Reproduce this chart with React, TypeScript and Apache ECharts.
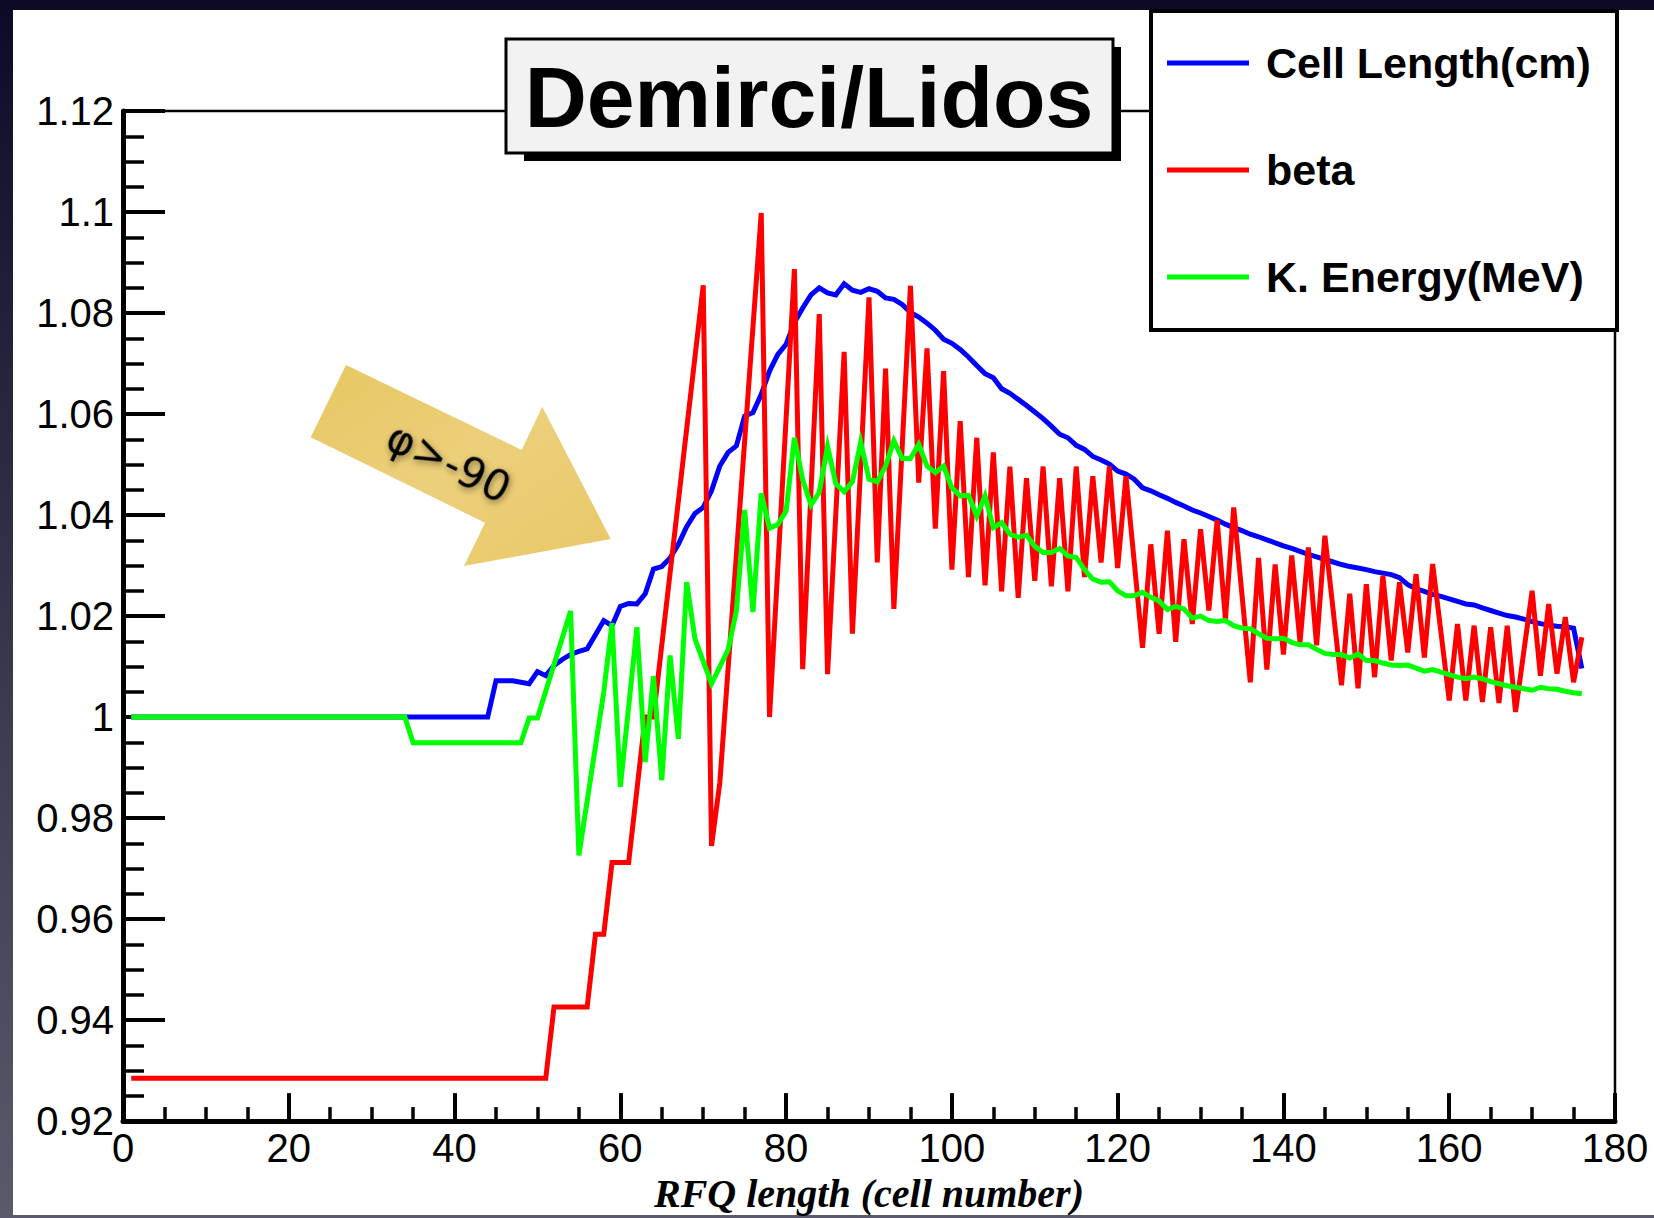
import React, { useEffect, useRef } from "react";
import * as echarts from "echarts";

// ---------- data (cell number, value) ----------
const seriesNames = ["Cell Length(cm)", "beta", "K. Energy(MeV)"];
const seriesColors = ["#0000ff", "#ff0000", "#00ff00"];

const cellLength: [number, number][] = [
  [1, 1.0], [44, 1.0], [45, 1.0072], [47, 1.0072], [49, 1.0066], [50, 1.009], [51, 1.0082],
  [52, 1.0102], [53, 1.0114], [54, 1.0124], [55, 1.013], [56, 1.0135], [57, 1.0163], [58, 1.0191],
  [59, 1.0181], [60, 1.0219], [61, 1.0225], [62, 1.0224], [63, 1.0244], [64, 1.0293], [65, 1.0298],
  [66, 1.0315], [67, 1.0342], [68, 1.0377], [69, 1.0403], [70, 1.0415], [71, 1.0448], [72, 1.0497],
  [73, 1.0524], [74, 1.0537], [75, 1.0596], [76, 1.0603], [77, 1.0639], [78, 1.0685], [79, 1.0718],
  [80, 1.0738], [81, 1.0781], [82, 1.081], [83, 1.0836], [84, 1.085], [85, 1.084], [86, 1.0836],
  [87, 1.0858], [88, 1.0845], [89, 1.0841], [90, 1.0848], [91, 1.0843], [92, 1.083], [93, 1.0827],
  [94, 1.0817], [95, 1.0801], [96, 1.0792], [97, 1.078], [98, 1.0766], [99, 1.0748], [100, 1.074],
  [101, 1.0728], [102, 1.0713], [103, 1.0696], [104, 1.068], [105, 1.0672], [106, 1.065], [107, 1.0641],
  [108, 1.0629], [109, 1.0617], [110, 1.0604], [111, 1.0591], [112, 1.0576], [113, 1.056], [114, 1.0553],
  [115, 1.0538], [116, 1.053], [117, 1.0516], [118, 1.0509], [119, 1.0501], [120, 1.0487], [121, 1.0481],
  [122, 1.0471], [123, 1.0454], [124, 1.0448], [125, 1.044], [126, 1.0433], [127, 1.0425], [128, 1.0418],
  [129, 1.041], [130, 1.0404], [131, 1.0397], [132, 1.039], [133, 1.0382], [134, 1.0375], [135, 1.0369],
  [136, 1.0362], [137, 1.0357], [138, 1.0351], [139, 1.0345], [140, 1.0339], [141, 1.0334], [142, 1.0328],
  [143, 1.0322], [144, 1.0317], [145, 1.0312], [146, 1.0307], [147, 1.0302], [148, 1.0298], [149, 1.0295],
  [150, 1.0292], [151, 1.0288], [152, 1.0285], [153, 1.0282], [154, 1.0276], [155, 1.0262], [156, 1.0254],
  [157, 1.0249], [158, 1.0243], [159, 1.0239], [160, 1.0234], [161, 1.0229], [162, 1.0224], [163, 1.0222],
  [164, 1.0216], [165, 1.0211], [166, 1.0206], [167, 1.0201], [168, 1.0198], [169, 1.0194], [170, 1.0189],
  [171, 1.0185], [172, 1.0182], [173, 1.018], [174, 1.0179], [175, 1.0176], [176, 1.0096],
];

const beta: [number, number][] = [
  [1, 0.9285], [51, 0.9285], [52, 0.9426], [56, 0.9426], [57, 0.957], [58, 0.957], [59, 0.9712],
  [61, 0.9712], [63, 1.0], [64, 1.0], [70, 1.0855], [71, 0.9745], [72, 0.987], [77, 1.0998], [78, 1.0],
  [81, 1.0887], [82, 1.0095], [84, 1.0798], [85, 1.0085], [87, 1.0723], [88, 1.0165], [90, 1.0831],
  [91, 1.0306], [92, 1.069], [93, 1.0214], [95, 1.0854], [96, 1.0464], [97, 1.073], [98, 1.0373],
  [99, 1.0685], [100, 1.0292], [101, 1.0586], [102, 1.0277], [103, 1.0553], [104, 1.0261], [105, 1.0524],
  [106, 1.0249], [107, 1.0496], [108, 1.0236], [109, 1.0473], [110, 1.027], [111, 1.0496], [112, 1.0259],
  [113, 1.0473], [114, 1.0249], [115, 1.0496], [116, 1.0277], [117, 1.0477], [118, 1.0306], [119, 1.0496],
  [120, 1.0295], [121, 1.0477], [123, 1.0137], [124, 1.0342], [125, 1.0165], [126, 1.0369], [127, 1.0149],
  [128, 1.0352], [129, 1.0184], [130, 1.0372], [131, 1.0211], [132, 1.039], [133, 1.0194], [134, 1.0415],
  [136, 1.0069], [137, 1.0315], [138, 1.0094], [139, 1.0302], [140, 1.0124], [141, 1.032], [142, 1.0148],
  [143, 1.0336], [144, 1.0142], [145, 1.0359], [147, 1.0063], [148, 1.0244], [149, 1.0057], [150, 1.0263],
  [151, 1.0079], [152, 1.028], [153, 1.0112], [154, 1.0267], [155, 1.0128], [156, 1.0283], [157, 1.0118],
  [158, 1.0303], [160, 1.0033], [161, 1.0184], [162, 1.0033], [163, 1.0181], [164, 1.003], [165, 1.0178],
  [166, 1.0028], [167, 1.0181], [168, 1.001], [170, 1.025], [171, 1.0082], [172, 1.0224], [173, 1.0086],
  [174, 1.0198], [175, 1.0069], [176, 1.0158],
];

const kineticEnergy: [number, number][] = [
  [1, 1.0], [34, 1.0], [35, 0.9949], [48, 0.9949], [49, 0.9998], [50, 0.9998], [54, 1.021], [55, 0.9726],
  [58, 1.005], [59, 1.0186], [60, 0.9862], [62, 1.0178], [63, 0.9911], [64, 1.0081], [65, 0.9875],
  [66, 1.0122], [67, 0.9957], [68, 1.0267], [69, 1.0155], [71, 1.0066], [73, 1.0133], [74, 1.021],
  [75, 1.041], [76, 1.0208], [77, 1.0443], [78, 1.0374], [79, 1.0381], [80, 1.0408], [81, 1.0553],
  [82, 1.047], [83, 1.042], [84, 1.0445], [85, 1.0536], [86, 1.0462], [87, 1.0446], [88, 1.0466],
  [89, 1.0544], [90, 1.0471], [91, 1.0466], [92, 1.0497], [93, 1.0547], [94, 1.0512], [95, 1.0512],
  [96, 1.054], [97, 1.0497], [98, 1.0484], [99, 1.0497], [100, 1.0454], [101, 1.0438], [102, 1.0439],
  [103, 1.0398], [104, 1.0438], [105, 1.0375], [106, 1.0385], [107, 1.0362], [108, 1.0356], [109, 1.036],
  [110, 1.0338], [111, 1.0326], [112, 1.0326], [113, 1.0334], [114, 1.0319], [115, 1.0316], [116, 1.0292],
  [117, 1.0273], [118, 1.0267], [119, 1.0268], [120, 1.025], [121, 1.024], [122, 1.024], [123, 1.0247],
  [124, 1.0237], [125, 1.023], [126, 1.0213], [127, 1.0219], [128, 1.0214], [129, 1.0196], [130, 1.02],
  [131, 1.0191], [132, 1.0189], [133, 1.0191], [134, 1.0181], [135, 1.0176], [136, 1.0175], [137, 1.0165],
  [138, 1.0156], [139, 1.0155], [140, 1.0156], [141, 1.0148], [142, 1.0143], [143, 1.0143], [144, 1.0134],
  [145, 1.0126], [146, 1.0124], [147, 1.0124], [148, 1.0117], [149, 1.0125], [150, 1.0112], [151, 1.0112],
  [152, 1.0107], [153, 1.0103], [154, 1.0102], [155, 1.0103], [156, 1.0097], [157, 1.0091], [158, 1.0094],
  [159, 1.0089], [160, 1.0084], [161, 1.0079], [162, 1.0076], [163, 1.0079], [164, 1.0076], [165, 1.007],
  [166, 1.0066], [167, 1.0062], [168, 1.0059], [169, 1.0056], [170, 1.0053], [171, 1.0059], [172, 1.0056],
  [173, 1.0055], [174, 1.0051], [175, 1.0048], [176, 1.0046],
];

const xRange = { min: 0, max: 180, step: 20 };
const yRange = { min: 0.92, max: 1.12, step: 0.02 };
const chartTitle = "Demirci/Lidos";
const xAxisTitle = "RFQ length (cell number)";
const arrowLabel = "φ>-90";

export default function App() {
  const ref = useRef<HTMLDivElement>(null);

  useEffect(() => {
    if (!ref.current) return;
    const chart = echarts.init(ref.current, null, { renderer: "svg" });
    const black = "#000";
    const option: any = {
      animation: false,
      backgroundColor: "transparent",
      title: {
        text: chartTitle,
        left: 809,
        top: 97,
        textAlign: "center",
        textVerticalAlign: "middle",
        padding: 0,
        z: 60,
        textStyle: { fontSize: 86, fontWeight: "bold", fontFamily: "Liberation Sans", color: black },
      },
      legend: {
        orient: "vertical",
        left: 1167,
        top: 38,
        padding: 0,
        itemWidth: 82,
        itemHeight: 5,
        itemGap: 57,
        icon: "rect",
        z: 60,
        textStyle: {
          fontSize: 43,
          fontWeight: "bold",
          fontFamily: "Liberation Sans",
          color: black,
          lineHeight: 50,
          padding: [0, 0, 0, 12],
        },
        data: seriesNames,
      },
      grid: {
        left: 123,
        right: 39,
        top: 111,
        bottom: 82,
        show: true,
        borderColor: black,
        borderWidth: 2.5,
        backgroundColor: "transparent",
      },
      xAxis: {
        type: "value",
        min: xRange.min,
        max: xRange.max,
        interval: xRange.step,
        axisLine: { show: true, onZero: false, lineStyle: { color: black, width: 5 } },
        axisTick: { show: true, inside: true, length: 28, lineStyle: { color: black, width: 4 } },
        minorTick: { show: true, splitNumber: 4, length: 14, lineStyle: { color: black, width: 3.5 } },
        splitLine: { show: false },
        axisLabel: { color: black, fontSize: 40, fontFamily: "Liberation Sans", margin: 7 },
        name: xAxisTitle,
        nameLocation: "middle",
        nameGap: 37,
        nameTextStyle: {
          fontFamily: "Liberation Serif",
          fontStyle: "italic",
          fontWeight: "bold",
          fontSize: 40,
          color: black,
        },
      },
      yAxis: {
        type: "value",
        min: yRange.min,
        max: yRange.max,
        interval: yRange.step,
        axisLine: { show: true, onZero: false, lineStyle: { color: black, width: 5 } },
        axisTick: { show: true, inside: true, length: 42, lineStyle: { color: black, width: 4 } },
        minorTick: { show: true, splitNumber: 4, length: 21, lineStyle: { color: black, width: 3.5 } },
        splitLine: { show: false },
        axisLabel: {
          color: black,
          fontSize: 40,
          fontFamily: "Liberation Sans",
          margin: 9,
          formatter: (v: number) => String(Number(v.toFixed(3))),
        },
      },
      series: [cellLength, beta, kineticEnergy].map((d, i) => ({
        name: seriesNames[i],
        type: "line",
        data: d,
        showSymbol: false,
        symbol: "none",
        z: 3 + i,
        color: seriesColors[i],
        lineStyle: { color: seriesColors[i], width: 5, join: "miter", miterLimit: 6 },
      })),
      graphic: [
        {
          type: "polygon",
          z: 5,
          shape: {
            points: [
              [346, 365], [521.7, 450], [542.3, 406.7], [610.7, 539], [464, 566], [485, 522.7], [310.7, 437.3],
            ],
          },
          style: {
            fill: new echarts.graphic.LinearGradient(0, 0, 1, 1, [
              { offset: 0, color: "#e8c662" },
              { offset: 0.5, color: "#eccf7a" },
              { offset: 1, color: "#e9c868" },
            ]),
          },
        },
        {
          type: "text",
          z: 6,
          x: 449,
          y: 462,
          rotation: -0.45,
          style: {
            text: arrowLabel,
            fontSize: 42,
            fontFamily: "DejaVu Sans",
            fill: black,
            align: "center",
            verticalAlign: "middle",
            textShadowColor: "rgba(0,0,0,0.45)",
            textShadowBlur: 6,
            textShadowOffsetX: 2,
            textShadowOffsetY: 2,
          },
        },
        {
          type: "rect",
          z: 50,
          shape: { x: 524, y: 47, width: 597, height: 114 },
          style: { fill: black },
        },
        {
          type: "rect",
          z: 51,
          shape: { x: 506, y: 39, width: 607, height: 114 },
          style: { fill: "#f2f2f2", stroke: black, lineWidth: 3 },
        },
        {
          type: "rect",
          z: 51,
          shape: { x: 1151, y: 11, width: 466, height: 319 },
          style: { fill: "#fff", stroke: black, lineWidth: 4 },
        },
      ],
    };
    chart.setOption(option);
    return () => chart.dispose();
  }, []);

  return (
    <div
      style={{
        position: "absolute",
        left: 0,
        top: 0,
        width: 1654,
        height: 1218,
        background: "linear-gradient(to bottom, #0b0b28, #3c3c52 60%, #5a5a6c)",
        overflow: "hidden",
      }}
    >
      <div style={{ position: "absolute", left: 13, top: 10, width: 1641, height: 1205, background: "#fff" }} />
      <div ref={ref} style={{ position: "absolute", left: 0, top: 0, width: 1654, height: 1218 }} />
    </div>
  );
}
